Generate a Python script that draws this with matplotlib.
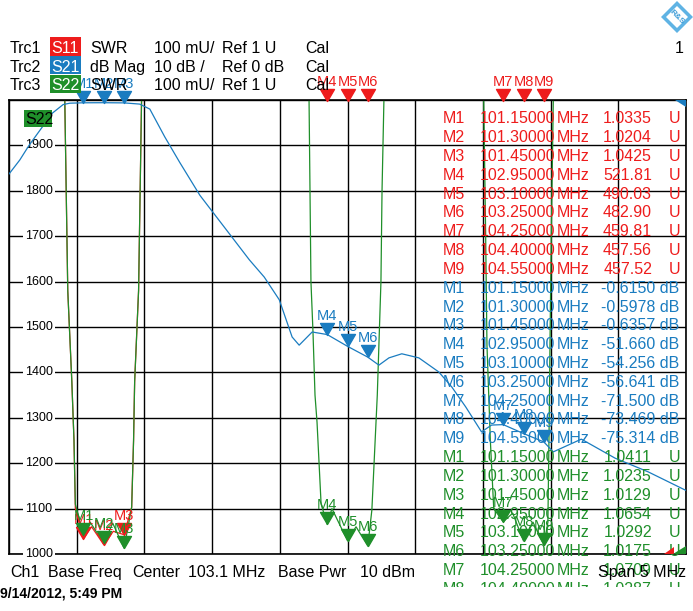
import numpy as np
import matplotlib
matplotlib.use('Agg')
import matplotlib.pyplot as plt
from matplotlib.path import Path
from matplotlib.patches import Polygon, Rectangle
from matplotlib.transforms import Bbox, TransformedBbox

plt.rcParams['font.family'] = ['Liberation Sans', 'DejaVu Sans']

# === DATA ===
# stimulus: center 103.1 MHz, span 5 MHz
f_start, f_stop = 100.6, 105.6

# Trc1 S11 SWR (U)
s11_f = [100.60, 100.95, 101.012, 101.034, 101.064, 101.08, 101.09, 101.15, 101.21, 101.30,
         101.37, 101.45, 101.506, 101.52, 101.528, 101.557, 101.579, 101.65, 102.00, 105.60]
s11_swr = [9.0, 3.0, 2.0, 1.58, 1.38, 1.25, 1.10, 1.0335, 1.06, 1.0204,
           1.05, 1.0425, 1.103, 1.25, 1.38, 1.58, 2.0, 3.0, 400.0, 450.0]

# Trc2 S21 dB Mag
s21_f = [100.60, 100.68, 100.75, 100.83, 100.92, 101.00, 101.05, 101.15, 101.30, 101.45,
         101.565, 101.64, 101.75, 101.86, 102.01, 102.19, 102.375, 102.485, 102.596, 102.691,
         102.743, 102.839, 102.95, 103.10, 103.25, 103.332, 103.406, 103.501, 103.627, 103.774,
         103.87, 103.973, 104.09, 104.164, 104.25, 104.40, 104.55, 104.62, 104.827, 105.077,
         105.32, 105.60]
s21_db = [-16.3, -13.2, -9.9, -6.6, -2.9, -1.0, -0.7, -0.615, -0.598, -0.636,
          -0.9, -2.0, -8.1, -13.7, -21.0, -28.0, -35.2, -39.0, -44.0, -52.2,
          -54.0, -51.1, -51.66, -54.256, -56.641, -58.4, -56.8, -55.9, -56.8, -59.9,
          -63.2, -67.6, -73.1, -71.6, -71.5, -73.469, -75.314, -77.5, -74.7, -78.9,
          -81.9, -86.0]

# Trc3 S22 SWR (U)
s22_f = [100.60, 100.95, 101.012, 101.034, 101.064, 101.08, 101.09, 101.15, 101.20, 101.30,
         101.366, 101.45, 101.506, 101.52, 101.528, 101.557, 101.579, 101.65,
         102.75, 102.816, 102.823, 102.83, 102.845, 102.86, 102.875, 102.905, 102.95, 102.985,
         103.10, 103.163, 103.25, 103.28, 103.32, 103.347, 103.355, 103.369, 103.45,
         104.05, 104.106, 104.12, 104.13, 104.155, 104.18, 104.25, 104.32, 104.40,
         104.47, 104.55, 104.58, 104.59, 104.595, 104.605, 104.62, 104.70, 105.60]
s22_swr = [9.0, 3.0, 2.0, 1.58, 1.38, 1.25, 1.11, 1.0411, 1.07, 1.0235,
           1.068, 1.0129, 1.103, 1.25, 1.38, 1.58, 2.0, 3.0,
           3.0, 2.0, 1.8, 1.6, 1.49, 1.35, 1.29, 1.11, 1.0654, 1.10,
           1.0292, 1.06, 1.0175, 1.097, 1.35, 1.6, 1.8, 2.0, 3.0,
           3.0, 2.0, 1.71, 1.46, 1.25, 1.10, 1.0709, 1.09, 1.0287,
           1.07, 1.0203, 1.07, 1.30, 1.45, 1.70, 2.0, 3.0, 9.0]

# markers
mk_names = ['M1', 'M2', 'M3', 'M4', 'M5', 'M6', 'M7', 'M8', 'M9']
mk_freq = [101.15, 101.30, 101.45, 102.95, 103.10, 103.25, 104.25, 104.40, 104.55]
mk_s11 = [1.0335, 1.0204, 1.0425, 521.81, 490.03, 482.90, 459.81, 457.56, 457.52]
mk_s21 = [-0.6150, -0.5978, -0.6357, -51.660, -54.256, -56.641, -71.500, -73.469, -75.314]
mk_s22 = [1.0411, 1.0235, 1.0129, 1.0654, 1.0292, 1.0175, 1.0709, 1.0287, 1.0203]

y_ticks = [1000, 1100, 1200, 1300, 1400, 1500, 1600, 1700, 1800, 1900]

RED = '#ee1c1c'
BLUE = '#1a7cc0'
GREEN = '#1f8f2a'

W, H = 693, 611


def fx(x):
    return x / W


def fy(y):
    return 1 - y / H


fig = plt.figure(figsize=(W / 100, H / 100), dpi=100)
fig.patch.set_facecolor('white')

# plot area in pixels: left 9, right 686, top 100, bottom 554
ax = fig.add_axes([fx(9), fy(554), (686 - 9) / W, (554 - 100) / H])
ax.set_xlim(f_start, f_stop)
ax.set_ylim(1000, 2000)
ax.set_xticks(np.arange(f_start, f_stop + 0.01, 0.5))
ax.set_yticks(np.arange(1000, 2001, 100))
ax.tick_params(length=0, labelbottom=False, labelleft=False)
ax.grid(True, color='black', lw=1.0)
ax.set_axisbelow(True)
for sp in ax.spines.values():
    sp.set_color('black')
    sp.set_linewidth(1.2)

ax2 = ax.twinx()
ax2.set_ylim(-100, 0)
ax2.set_yticks([])
for sp in ax2.spines.values():
    sp.set_visible(False)

# traces (SWR shown in mU)
ax.plot(s11_f, np.array(s11_swr) * 1000, color=RED, lw=0.9)
ax.plot(s22_f, np.array(s22_swr) * 1000, color=GREEN, lw=0.9)
ax2.plot(s21_f, s21_db, color=BLUE, lw=0.9)

# y labels with white background
for v in y_ticks:
    ax.text((39 - 9) / 677, v, str(v), transform=ax.get_yaxis_transform(),
            ha='center', va='center', fontsize=9,
            bbox=dict(facecolor='white', edgecolor='none', pad=1.5))

# marker triangles (tip on the data point)
tri = Path([(0, 0), (-0.58, 1), (0.58, 1), (0, 0)],
           [Path.MOVETO, Path.LINETO, Path.LINETO, Path.CLOSEPOLY])


def draw_markers(axis, vals, top, color):
    vals = np.minimum(np.array(vals), top)
    axis.plot(mk_freq, vals, ls='none', marker=tri, ms=17.3, color=color,
              clip_on=False, zorder=5)
    for name, f, v in zip(mk_names, mk_freq, vals):
        axis.annotate(name, (f, v), xytext=(0, 15), textcoords='offset pixels',
                      ha='center', va='baseline', fontsize=10.5, color=color,
                      annotation_clip=False, zorder=5)


draw_markers(ax, np.array(mk_s11) * 1000, 1998, RED)
draw_markers(ax2, mk_s21, 0, BLUE)
draw_markers(ax, np.array(mk_s22) * 1000, 1998, GREEN)

# ref position triangles on the right edge
for pts, c in [([(675, 100), (686, 100), (686, 107)], BLUE),
               ([(664, 554), (674, 554), (674, 547)], RED),
               ([(673, 554), (686, 554), (686, 546)], GREEN)]:
    fig.patches.append(Polygon([(fx(a), fy(b)) for a, b in pts], closed=True,
                               transform=fig.transFigure, facecolor=c, edgecolor='none', zorder=6))

# header lines
FS = 11.5
rows = [('Trc1', 'S11', RED, 'SWR', '100 mU/', 'Ref 1 U', 'Cal'),
        ('Trc2', 'S21', BLUE, 'dB Mag', '10 dB /', 'Ref 0 dB', 'Cal'),
        ('Trc3', 'S22', GREEN, 'SWR', '100 mU/', 'Ref 1 U', 'Cal')]
for i, (trc, sp, c, fmt, scale, ref, cal) in enumerate(rows):
    base = 53.3 + 18.35 * i
    top = 37 + 18.8 * i
    fig.patches.append(Rectangle((fx(50), fy(top + 18.5)), 31 / W, 18.5 / H,
                                 transform=fig.transFigure, facecolor=c, edgecolor='none', zorder=7))
    fig.text(fx(51), fy(base), sp, color='white', fontsize=FS, va='baseline', zorder=8)
    fig.text(fx(10), fy(base), trc, fontsize=FS, va='baseline')
    fig.text(fx(90), fy(base), fmt, fontsize=FS, va='baseline')
    fig.text(fx(154), fy(base), scale, fontsize=FS, va='baseline')
    fig.text(fx(222), fy(base), ref, fontsize=FS, va='baseline')
    fig.text(fx(305), fy(base), cal, fontsize=FS, va='baseline')

fig.text(fx(684), fy(53), '1', fontsize=FS, va='baseline', ha='right')

# S22 label in the diagram
fig.patches.append(Rectangle((fx(24), fy(127)), 28 / W, 17 / H, transform=fig.transFigure,
                             facecolor=GREEN, edgecolor='none', zorder=7))
fig.text(fx(25), fy(124), 'S22', fontsize=FS, va='baseline', zorder=8)

# logo
cx, cy = 677, 17
for r, c in [(16, '#5fb3e4'), (11, 'white')]:
    fig.patches.append(Polygon([(fx(cx), fy(cy - r)), (fx(cx + r), fy(cy)), (fx(cx), fy(cy + r)),
                                (fx(cx - r), fy(cy))], closed=True, transform=fig.transFigure,
                               facecolor=c, edgecolor='none'))
fig.text(fx(cx), fy(cy), 'R&S', fontsize=6, color='#3a9ad6', ha='center', va='center',
         rotation=-45, fontweight='bold')


# marker table
def fmt_val(v):
    d = max(0, int(np.floor(np.log10(abs(v)))))
    return f'{v:.{4 - d}f}'


clip = TransformedBbox(Bbox([[0, fy(587)], [1, 1]]), fig.transFigure)
table = []
for vals, c, unit in [(mk_s11, RED, 'U'), (mk_s21, BLUE, 'dB'), (mk_s22, GREEN, 'U')]:
    for name, f, v in zip(mk_names, mk_freq, vals):
        table.append((name, f, v, c, unit))

for i, (name, f, v, c, unit) in enumerate(table):
    base = fy(123.3 + 18.82 * i)
    items = [fig.text(fx(443), base, name, color=c, fontsize=FS, va='baseline'),
             fig.text(fx(480), base, f'{f:.5f}', color=c, fontsize=FS, va='baseline'),
             fig.text(fx(557), base, 'MHz', color=c, fontsize=FS, va='baseline')]
    if unit == 'U':
        items.append(fig.text(fx(652), base, fmt_val(v), color=c, fontsize=FS,
                              va='baseline', ha='right'))
        items.append(fig.text(fx(669), base, 'U', color=c, fontsize=FS, va='baseline'))
    else:
        items.append(fig.text(fx(679), base, fmt_val(v) + ' dB', color=c, fontsize=FS,
                              va='baseline', ha='right'))
    for t in items:
        t.set_clip_on(True)
        t.set_clip_box(clip)

# channel line
for x, s in [(10, 'Ch1'), (48, 'Base Freq'), (132, 'Center'), (188, '103.1 MHz'),
             (278, 'Base Pwr'), (360, '10 dBm')]:
    fig.text(fx(x), fy(577), s, fontsize=FS, va='baseline')
fig.text(fx(686), fy(577), 'Span 5 MHz', fontsize=FS, va='baseline', ha='right')

fig.text(fx(0), fy(598), '9/14/2012, 5:49 PM', fontsize=10, fontweight='bold', va='baseline')

fig.savefig('out.png', dpi=100)
